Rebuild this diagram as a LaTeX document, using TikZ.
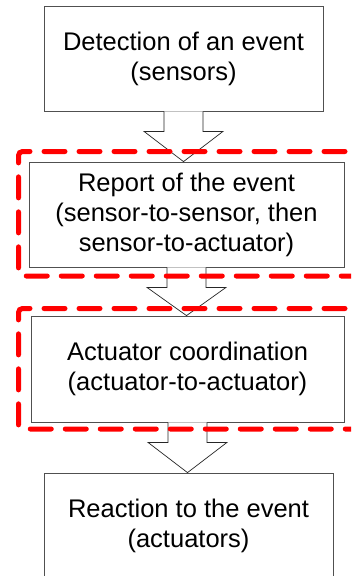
\documentclass[tikz,border=0pt]{standalone}
\usepackage{fontspec}
\setmainfont{Liberation Sans}
\usepackage{xcolor}
\usepackage{tikz}
\usetikzlibrary{calc}
\definecolor{boxgray}{RGB}{80, 80, 80}
\definecolor{groupred}{RGB}{255, 0, 0}

% block arrow from the bottom of one box down to the top of the next
\newcommand{\blockarrow}[2]{%
  \draw[arrowbody] ($(#1.south)+(-19.5,0)$) -- ++(0,-20) -- ++(-20,0)
    -- (#1.south |- #2.north) -- ($(#1.south)+(39.5,-20)$) -- ++(-20,0) -- ++(0,20);}

\begin{document}
\begin{tikzpicture}[x = 1pt, y = 1pt,
  stepbox/.style = {draw = boxgray, line width = 0.8pt, fill = white, align = center, inner sep = 0pt,
    font = \fontsize{25.5}{30}\selectfont},
  arrowbody/.style = {draw = black!85, line width = 0.7pt, fill = white},
  groupline/.style = {draw = groupred, line width = 5pt, line cap = round, rounded corners = 4pt,
    dash pattern = on 21pt off 14pt}]
			\useasboundingbox (0,0) rectangle (351,-576);
			\clip (0,0) rectangle (351,-576);
			\node (a) at (183.5,-58.5) [stepbox, minimum width = 279pt, minimum height = 105pt] {Detection of an event\\(sensors)};
			\node (b) at (186.5,-214.5) [stepbox, minimum width = 315pt, minimum height = 105pt] {Report of the event\\(sensor-to-sensor, then\\sensor-to-actuator)};
			\node (c) at (187.5,-369) [stepbox, minimum width = 313pt, minimum height = 106pt] {Actuator coordination\\(actuator-to-actuator)};
			\node (d) at (188.5,-525.5) [stepbox, minimum width = 289pt, minimum height = 105pt] {Reaction to the event\\(actuators)};
			\blockarrow{a}{b}
			\blockarrow{b}{c}
			\blockarrow{c}{d}
			\draw[groupline] (380,-151.5) -- (18.5,-151.5) -- (18.5,-276) -- (380,-276);
			\draw[groupline] (380,-308.5) -- (18.5,-308.5) -- (18.5,-429) -- (380,-429);
			\end{tikzpicture}
\end{document}
